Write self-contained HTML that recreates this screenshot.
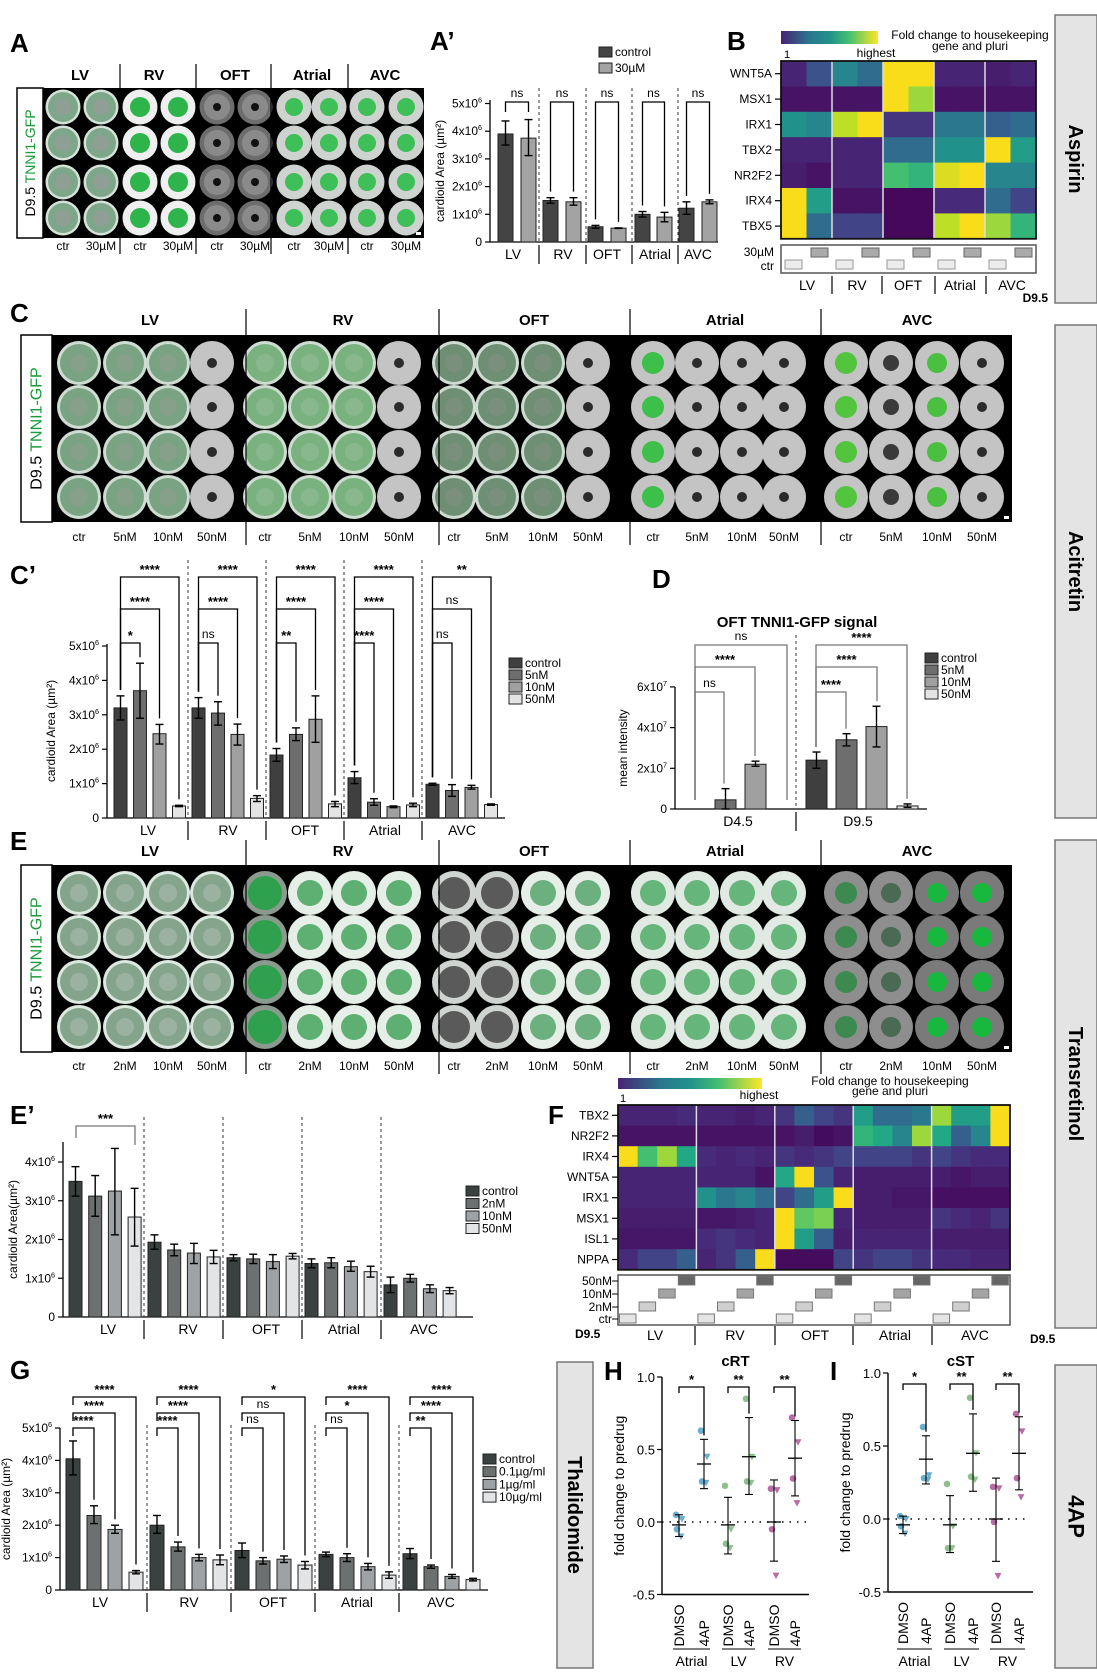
<!DOCTYPE html>
<html><head><meta charset="utf-8"><style>
html,body{margin:0;padding:0;background:#fff}
svg{display:block;font-family:"Liberation Sans",Arial,sans-serif}
</style></head><body>
<svg id="s" xmlns="http://www.w3.org/2000/svg" width="1097" height="1675" viewBox="0 0 1097 1675"></svg>
<script>
const S=[];
function T(x,y,s,sz,a){S.push(`<text x="${x}" y="${y}" font-size="${sz}" ${a||''}>${s}</text>`);}
function L(x1,y1,x2,y2,c,w,d){S.push(`<line x1="${x1}" y1="${y1}" x2="${x2}" y2="${y2}" stroke="${c||'#000'}" stroke-width="${w||1}" ${d?`stroke-dasharray="${d}"`:''}/>`);}
function R(x,y,w,h,f,st,sw){S.push(`<rect x="${x}" y="${y}" width="${w}" height="${h}" fill="${f}" ${st?`stroke="${st}" stroke-width="${sw||1}"`:''}/>`);}
function C(x,y,r,f){S.push(`<circle cx="${x}" cy="${y}" r="${r}" fill="${f}"/>`);}
function sci(x,y,m,e,sz){S.push(`<text x="${x}" y="${y}" font-size="${sz}" text-anchor="end">${m}x10<tspan font-size="${sz*0.6}" dy="-5">${e}</tspan></text>`);}
function vir(v){const st=['#440154','#482475','#414487','#355f8d','#2a788e','#21918c','#22a884','#44bf70','#7ad151','#bddf26','#f9dc1a'];
 v=Math.max(0,Math.min(1,v));const i=Math.min(9,Math.floor(v*10)),f=v*10-i;
 const a=st[i],b=st[i+1];const p=(h,k)=>parseInt(h.substr(k,2),16);
 const m=k=>Math.round(p(a,k)+(p(b,k)-p(a,k))*f);return `rgb(${m(1)},${m(3)},${m(5)})`;}
function rot(x,y,s,sz,ang,a){S.push(`<text transform="translate(${x},${y}) rotate(${ang})" font-size="${sz}" text-anchor="middle" ${a||''}>${s}</text>`);}
function side(x,y,w,h,txt,sz){R(x,y,w,h,'#e4e4e4','#777',1.5);rot(x+w/2-sz*0.35,y+h/2,txt,sz,90,'font-weight="bold"');}
side(1055,15,42,288,'Aspirin',20);
side(1055,325,42,493,'Acitretin',20);
side(1055,840,42,488,'Transretinol',20);
side(1055,1365,42,303,'4AP',22);
side(557,1362,36,306,'Thalidomide',20);
const PL=[['A',10,52],['A’',430,50],['B',727,50],['C',10,322],['C’',10,584],['D',652,588],['E',10,850],['E’',10,1124],['F',548,1124],['G',10,1379],['H',604,1380],['I',830,1380]];
PL.forEach(p=>T(p[1],p[2],p[0],26,'font-weight="bold"'));

function plate(x0,y0,x1,y1,wb,xs,ys,fn,heads,seps,hy,bot,by,label){
 R(x0,y0,x1-x0,y1-y0,'#000');
 R(x0,y0,wb-x0,y1-y0,'#fff','#000',1.5);
 S.push(`<text transform="translate(${(x0+wb)/2+5},${(y0+y1)/2}) rotate(-90)" font-size="${label}" text-anchor="middle">D9.5 <tspan fill="#1a9a3a">TNNI1-GFP</tspan></text>`);
 xs.forEach((x,c)=>ys.forEach((y,r)=>fn(c,r).forEach(e=>C(x,y,e[0],e[1]))));
 R(x1-8,y1-6,5,3,'#fff');
 heads.forEach(h=>T(h[0],hy,h[1],15,'text-anchor="middle" font-weight="bold"'));
 seps.forEach(s=>L(s,hy-16,s,by+4,'#000',1.2));
 bot.forEach(b=>T(b[0],by,b[1],12,'text-anchor="middle"'));
}
{const xs=[63,101,140,178,217,255,294,329,367,406],ys=[107,143,182,218];
plate(17,88,424,238,43,xs,ys,(c,r)=>{const g=Math.floor(c/2);
 if(g==0)return[[17.5,'#d4e2d8'],[15,'#7ea68a'],[8,'#8f9f95']];
 if(g==1)return[[17.5,'#efefef'],[10,'#2db54c']];
 if(g==2)return[[17.5,'#6d6d6d'],[13,'#8a8a8a'],[4,'#111']];
 return[[17.5,'#cfd3d0'],[9,'#3fbf57']];},
 [[80,'LV'],[154,'RV'],[235,'OFT'],[312,'Atrial'],[385,'AVC']],[120,196,271,348],80,
 xs.map((x,i)=>[x,i%2?'30µM':'ctr']),250,14);}
const CX=[79,125,168,212,265,310,354,399,454,497,543,588,653,697,742,784,846,891,937,982];
const heads5=[[150,'LV'],[343,'RV'],[534,'OFT'],[725,'Atrial'],[917,'AVC']],seps5=[246,439,630,821];
plate(21,335,1012,522,52,CX,[363,407,452,497],(c)=>{const g=Math.floor(c/4),d=c%4;
 if(d==3)return[[22,'#c4c4c4'],[5,'#2b2b2b']];
 if(g<3)return[[22,'#cfdcd2'],[19,['#7aa383','#79b27f','#6f8f74'][g]],[9,['#86a08a','#88b88c','#7a907c'][g]]];
 if(g==3)return d==0?[[22,'#c4c4c4'],[11,'#3cc04a']]:[[22,'#c4c4c4'],[5,'#2b2b2b']];
 return d==0?[[22,'#c4c4c4'],[11,'#52c43e']]:d==1?[[22,'#c4c4c4'],[8,'#3a3a3a']]:[[22,'#c4c4c4'],[10,'#4ac040']];},
 heads5,seps5,325,CX.map((x,i)=>[x,['ctr','5nM','10nM','50nM'][i%4]]),541,16);
plate(21,865,1012,1052,52,CX,[893,937,982,1027],(c)=>{const g=Math.floor(c/4),d=c%4;
 if(g==0)return[[22,'#dde8e0'],[19,'#84a58b'],[9,'#9bb2a0']];
 if(g==1)return d==0?[[22,'#8a9a8e'],[17,'#2ea04e']]:[[22,'#e6eee8'],[13,'#5daf72']];
 if(g==2)return d<2?[[22,'#d0d4d0'],[16,'#5a5a5a']]:[[22,'#e6eee8'],[13,'#6bb07e']];
 if(g==3)return[[22,'#e0eae3'],[13,'#66b57b']];
 return d==0?[[22,'#8e8e8e'],[11,'#3d8a50']]:d==1?[[22,'#8e8e8e'],[10,'#4a6a55']]:[[22,'#7a7a7a'],[10,'#18b83f']];},
 heads5,seps5,856,CX.map((x,i)=>[x,['ctr','2nM','10nM','50nM'][i%4]]),1070,16);

function chart(o){
 const Y=v=>o.y0-v*o.k;
 L(o.ax,o.ytop,o.ax,o.y0,'#000',1.3);L(o.ax,o.y0,o.ax2,o.y0,'#000',1.3);
 o.ticks.forEach(t=>{L(o.ax-5,Y(t[0]),o.ax,Y(t[0]),'#000',1.2);
  if(t[1]==='0')T(o.ax-8,Y(t[0])+4,'0',12,'text-anchor="end"');else sci(o.ax-8,Y(t[0])+4,t[1],t[2],12);});
 o.dash.forEach(x=>L(x,o.dtop,x,o.y0,'#333',1,'3,3'));
 o.cats.forEach(c=>T(c[0],o.y0+17,c[1],14,'text-anchor="middle"'));
 o.dash.forEach(x=>L(x,o.y0+3,x,o.y0+22,'#000',1.2));
 o.bars.forEach(b=>{R(b[0],Y(b[2]),o.bw,b[2]*o.k,b[1],'#222',1);
  const xc=b[0]+o.bw/2;if(b[3]!=null){L(xc,Y(b[3]),xc,Y(b[4]),'#000',1.4);L(xc-4,Y(b[3]),xc+4,Y(b[3]),'#000',1.4);L(xc-4,Y(b[4]),xc+4,Y(b[4]),'#000',1.4);}});
 rot(o.tx,(o.ytop+o.y0)/2,o.title,12,-90);
 o.leg.forEach((l,i)=>{R(o.lx,o.ly+i*o.lh-8,13,10,l[0],'#222',1);T(o.lx+16,o.ly+i*o.lh+1,l[1],12);});
 return Y;
}
function br(x1,x2,yt,b1,b2,lab,col){const c=col||'#000';S.push(`<polyline points="${x1},${b1} ${x1},${yt} ${x2},${yt} ${x2},${b2}" fill="none" stroke="${c}" stroke-width="1.3"/>`);
 const st=lab.indexOf('*')>=0;T((x1+x2)/2,yt-(st?3:5),lab,st?13:12,'text-anchor="middle" '+(st?'font-weight="bold"':''));}
const G4=['#3f3f3f','#6e6e6e','#a0a0a0','#e4e4e4'];

{const vals=[[498,'#444',3.9,3.5,4.37],[521,'#a3a3a3',3.75,3.12,4.42],[543,'#444',1.5,1.4,1.6],[566,'#a3a3a3',1.45,1.33,1.6],[588,'#444',.55,.5,.6],[611,'#a3a3a3',.5,.49,.51],[635,'#444',1.0,.9,1.1],[657,'#a3a3a3',.9,.73,1.07],[679,'#444',1.22,1.0,1.45],[702,'#a3a3a3',1.45,1.38,1.52]];
const Y=chart({ax:490,ax2:718,y0:242,k:27.7,ytop:100,ticks:[[0,'0'],[1,'1',6],[2,'2',6],[3,'3',6],[4,'4',6],[5,'5',6]],
 dash:[539,586,632,678],dtop:88,cats:[[513,'LV'],[563,'RV'],[607,'OFT'],[655,'Atrial'],[698,'AVC']],bars:vals,bw:15,
 tx:444,title:'cardioid Area (µm²)',leg:[['#444','control'],['#a3a3a3','30µM']],lx:599,ly:55,lh:16});
 for(let g=0;g<5;g++){const a=vals[2*g],b=vals[2*g+1];br(a[0]+7.5,b[0]+7.5,102,g==0?112:Y(a[4])-6,g==0?112:Y(b[4])-6,'ns');}}

function heat(x0,y0,cw,rh,data,genes,sepEvery){
 data.forEach((row,r)=>row.forEach((v,c)=>R(x0+c*cw,y0+r*rh,cw+0.5,rh+0.5,vir(v))));
 const nc=data[0].length;
 for(let c=sepEvery;c<nc;c+=sepEvery)L(x0+c*cw,y0,x0+c*cw,y0+data.length*rh,'#ddd',1.5);
 R(x0,y0,nc*cw,data.length*rh,'none','#111',1.8);
 genes.forEach((g,r)=>{T(x0-9,y0+r*rh+rh/2+4,g,12,'text-anchor="end"');L(x0-6,y0+r*rh+rh/2,x0,y0+r*rh+rh/2,'#000',1.2);});
}
function cbar(x,y,w,h,id){S.push(`<defs><linearGradient id="${id}"><stop offset="0" stop-color="#482475"/><stop offset=".3" stop-color="#2a788e"/><stop offset=".5" stop-color="#21918c"/><stop offset=".7" stop-color="#44bf70"/><stop offset="1" stop-color="#fde725"/></linearGradient></defs>`);R(x,y,w,h,`url(#${id})`);}
cbar(781,31,97,13,'g1');
T(784,58,'1',11);T(876,57,'highest',12,'text-anchor="middle"');
T(970,39,'Fold change to housekeeping',12,'text-anchor="middle"');T(970,50,'gene and pluri',12,'text-anchor="middle"');
heat(781,61,25.5,25.4,[
[.1,.25,.45,.35,1,1,.1,.1,.08,.1],
[.05,.05,.05,.05,1,.85,.05,.05,.05,.05],
[.5,.45,.9,1,.15,.15,.4,.4,.3,.35],
[.1,.1,.1,.1,.35,.35,.5,.5,1,.55],
[.08,.05,.1,.1,.7,.65,.95,1,.45,.45],
[1,.55,.05,.05,.02,.02,.12,.12,.35,.2],
[1,.35,.2,.2,.02,.02,.9,1,.85,.65]],['WNT5A','MSX1','IRX1','TBX2','NR2F2','IRX4','TBX5'],2);
R(781,245,255,28,'#fff','#555',1.5);
for(let g=0;g<5;g++){const x=781+g*51;R(x+30,248,17,9,'#aaa','#666');R(x+4,260,17,9,'#ececec','#999');}
T(774,256,'30µM',12,'text-anchor="end"');T(774,270,'ctr',12,'text-anchor="end"');
[[807,'LV'],[857,'RV'],[908,'OFT'],[960,'Atrial'],[1012,'AVC']].forEach(c=>T(c[0],290,c[1],14,'text-anchor="middle"'));
[832,882,935,986].forEach(x=>L(x,276,x,294,'#000',1.2));
T(1048,302,'D9.5',12,'text-anchor="end" font-weight="bold"');

{const d=[[3.2,2.85,3.55],[3.7,2.9,4.5],[2.45,2.15,2.72],[.35,.33,.37],[3.2,2.9,3.5],[3.05,2.7,3.38],[2.43,2.12,2.73],[.57,.48,.65],[1.83,1.65,2.02],[2.43,2.25,2.62],[2.87,2.2,3.55],[.41,.33,.48],[1.17,1,1.35],[.46,.37,.56],[.33,.3,.35],[.38,.33,.43],[.98,.95,1.01],[.8,.63,.97],[.89,.84,.95],[.39,.37,.41]];
const gs=[114,192,270,348,426],bars=[];d.forEach((v,i)=>bars.push([gs[Math.floor(i/4)]+(i%4)*19.5,G4[i%4],v[0],v[1],v[2]]));
const Y=chart({ax:107,ax2:505,y0:818,k:34.4,ytop:644,ticks:[[0,'0'],[1,'1',6],[2,'2',6],[3,'3',6],[4,'4',6],[5,'5',6]],
 dash:[188,266,344,422],dtop:560,cats:[[148,'LV'],[228,'RV'],[305,'OFT'],[385,'Atrial'],[462,'AVC']],bars,bw:13,
 tx:55,title:'cardioid Area (µm²)',leg:G4.map((c,i)=>[c,['control','5nM','10nM','50nM'][i]]),lx:509,ly:666,lh:12});
 const labs=[['*','****','****'],['ns','****','****'],['**','****','****'],['****','****','****'],['ns','ns','**']],tops=[643,609,577];
 for(let g=0;g<5;g++){const x0=gs[g]+6.5;for(let l=0;l<3;l++){const x2=gs[g]+(l+1)*19.5+6.5;br(x0,x2,tops[l],Y(d[g*4][2])-6,Y(d[g*4+l+1][2])-6,labs[g][l]);}}}

T(797,627,'OFT TNNI1-GFP signal',15,'text-anchor="middle" font-weight="bold"');
{const k=40.7/2;const bars=[[715,G4[1],.45,0,1.0],[745,G4[2],2.2,2.1,2.35],[806,G4[0],2.4,2.0,2.8],[836,G4[1],3.4,3.1,3.7],[866,G4[2],4.05,3.05,5.05],[897,G4[3],.15,.08,.25]];
const Y=chart({ax:675,ax2:927,y0:809,k:k,ytop:687,ticks:[[0,'0'],[2,'2',7],[4,'4',7],[6,'6',7]],dash:[796],dtop:635,
 cats:[[738,'D4.5'],[858,'D9.5']],bars,bw:21,tx:627,title:'mean intensity',leg:G4.map((c,i)=>[c,['control','5nM','10nM','50nM'][i]]),lx:925,ly:661,lh:12});
 const cl='#777';br(695,724,692,800,Y(1.0)-5,'ns',cl);br(695,755,667,800,Y(2.35)-5,'****',cl);br(695,787,645,800,800,'ns',cl);
 br(816,846,692,Y(2.8)-5,Y(3.7)-5,'****',cl);br(816,877,667,Y(2.8)-5,Y(5.05)-5,'****',cl);br(816,907,645,Y(2.8)-5,Y(.25)-5,'****',cl);}

{const d=[[3.5,3.12,3.88],[3.12,2.6,3.65],[3.25,2.12,4.35],[2.58,1.83,3.32],[1.93,1.75,2.12],[1.73,1.58,1.88],[1.65,1.38,1.9],[1.55,1.38,1.72],[1.53,1.45,1.61],[1.5,1.38,1.62],[1.43,1.25,1.61],[1.57,1.5,1.64],[1.38,1.27,1.5],[1.4,1.27,1.53],[1.3,1.18,1.44],[1.17,1.03,1.31],[.83,.63,1.03],[1.0,.9,1.1],[.73,.63,.83],[.68,.6,.76]];
const gs=[69,148,227,305,384],EC=['#3b4140','#6d7070','#9ea2a4','#e2e4e6'],bars=[];d.forEach((v,i)=>bars.push([gs[Math.floor(i/4)]+(i%4)*19.7,EC[i%4],v[0],v[1],v[2]]));
chart({ax:63,ax2:473,y0:1317,k:38.75,ytop:1142,ticks:[[0,'0'],[1,'1',6],[2,'2',6],[3,'3',6],[4,'4',6]],
 dash:[144,223,302,381],dtop:1117,cats:[[108,'LV'],[188,'RV'],[266,'OFT'],[344,'Atrial'],[424,'AVC']],bars,bw:13,
 tx:17,title:'cardioid Area(µm²)',leg:EC.map((c,i)=>[c,['control','2nM','10nM','50nM'][i]]),lx:466,ly:1194,lh:12.5});
 br(76,135,1126,1138,1145,'***','#777');}

cbar(618,1078,144,11,'g2');
T(620,1102,'1',11);T(759,1099,'highest',12,'text-anchor="middle"');
T(890,1085,'Fold change to housekeeping',12,'text-anchor="middle"');T(890,1095,'gene and pluri',12,'text-anchor="middle"');
heat(618,1105,19.6,20.6,[
[.1,.1,.1,.12,.1,.1,.08,.1,.15,.3,.2,.15,.55,.35,.35,.4,.85,.55,.55,1],
[.05,.05,.05,.05,.05,.05,.05,.05,.05,.08,.03,.05,.65,.6,.45,.85,.6,.3,.45,1],
[1,.7,.85,.6,.12,.1,.12,.1,.15,.12,.15,.2,.2,.2,.2,.15,.2,.15,.12,.12],
[.1,.1,.1,.1,.1,.1,.1,.05,.6,1,.25,.1,.08,.08,.08,.08,.08,.06,.08,.08],
[.1,.1,.1,.1,.5,.4,.45,.35,.2,.35,.55,1,.08,.08,.06,.06,.04,.04,.04,.04],
[.08,.08,.08,.08,.06,.06,.08,.1,1,.75,.8,.1,.08,.08,.08,.08,.15,.12,.1,.15],
[.06,.06,.06,.06,.12,.15,.12,.1,1,.55,.3,.08,.1,.1,.1,.1,.08,.08,.08,.08],
[.12,.2,.2,.3,.1,.15,.3,1,.03,.03,.03,.2,.15,.2,.2,.15,.12,.12,.1,.1]],
['TBX2','NR2F2','IRX4','WNT5A','IRX1','MSX1','ISL1','NPPA'],4);
R(618,1275,392,50,'#fff','#555',1.5);
{const ys=[1313,1301,1288,1275],cs=['#e4e4e4','#cfcfcf','#a4a4a4','#666'];
for(let g=0;g<5;g++)for(let d=0;d<4;d++)R(618+g*78.4+d*19.6+1.5,ys[d]+1,16.5,9,cs[d],'#777');
['ctr','2nM','10nM','50nM'].forEach((l,d)=>{T(612,ys[d]+10,l,12,'text-anchor="end"');L(612,ys[d]+6,618,ys[d]+6,'#000',1);});}
[[655,'LV'],[735,'RV'],[815,'OFT'],[895,'Atrial'],[975,'AVC']].forEach(c=>T(c[0],1340,c[1],14,'text-anchor="middle"'));
[695,775,853,932].forEach(x=>L(x,1326,x,1345,'#000',1.2));
T(575,1338,'D9.5',12,'font-weight="bold"');T(1030,1343,'D9.5',12,'font-weight="bold"');

{const d=[[4.05,3.55,4.6],[2.3,2.05,2.6],[1.87,1.75,2.0],[.55,.5,.6],[2.0,1.75,2.3],[1.33,1.2,1.48],[1.0,.9,1.1],[.93,.78,1.08],[1.22,1.0,1.45],[.9,.8,1.0],[.95,.85,1.05],[.77,.65,.88],[1.1,1.03,1.17],[1.0,.88,1.12],[.72,.62,.82],[.46,.36,.56],[1.12,.97,1.28],[.72,.67,.77],[.42,.36,.48],[.32,.28,.36]];
const gs=[66,150,235,319,403],GC=['#3b4140','#6d7070','#9ea2a4','#e2e4e6'],bars=[];d.forEach((v,i)=>bars.push([gs[Math.floor(i/4)]+(i%4)*21,GC[i%4],v[0],v[1],v[2]]));
const Y=chart({ax:60,ax2:488,y0:1590,k:32.4,ytop:1428,ticks:[[0,'0'],[1,'1',6],[2,'2',6],[3,'3',6],[4,'4',6],[5,'5',6]],
 dash:[147,231,315,399],dtop:1425,cats:[[100,'LV'],[189,'RV'],[273,'OFT'],[357,'Atrial'],[441,'AVC']],bars,bw:14,
 tx:10,title:'cardioid Area (µm²)',leg:GC.map((c,i)=>[c,['control','0.1µg/ml','1µg/ml','10µg/ml'][i]]),lx:483,ly:1462,lh:12.7});
 const labs=[['****','****','****'],['****','****','****'],['ns','ns','*'],['ns','*','****'],['**','****','****']],tops=[1428,1413,1397];
 for(let g=0;g<5;g++){const x0=gs[g]+7;for(let l=0;l<3;l++){const x2=gs[g]+(l+1)*21+7;br(x0,x2,tops[l],tops[l]+8,Y(d[g*4+l+1][2])-6,labs[g][l]);}}}

function scat(o){
 const Y=v=>o.z-v*o.k;
 L(o.ax,Y(1.0),o.ax,Y(-0.5),'#000',1.4);L(o.ax,Y(-0.5),o.ax2,Y(-0.5),'#000',1.4);
 [[1,'1.0'],[.5,'0.5'],[0,'0.0'],[-.5,'-0.5']].forEach(t=>{L(o.ax-5,Y(t[0]),o.ax,Y(t[0]),'#000',1.2);T(o.ax-7,Y(t[0])+5,t[1],13,'text-anchor="end"');});
 L(o.ax,Y(0),o.ax2-3,Y(0),'#000',1.5,'1.5,6');
 T((o.ax+o.ax2)/2,1366,o.title,15,'text-anchor="middle" font-weight="bold"');
 rot(o.ax-38,Y(0.25),'fold change to predrug',14,-90);
 const cols=['#6aaed0','#8fbf8f','#b86ca6'];
 o.xs.forEach((x,i)=>{S.push(`<text transform="translate(${x+5},${Y(-0.5)+52}) rotate(-90)" font-size="14">${i%2?'4AP':'DMSO'}</text>`);
  const p=o.pts[i],col=cols[Math.floor(i/2)];
  p[0].forEach((v,j)=>{const xx=x+[-3,3,-2,2][j];const y=Y(v);
   if(j%2==0)C(xx,y,3.3,col);else S.push(`<polygon points="${xx-3.5},${y-3} ${xx+3.5},${y-3} ${xx},${y+3.5}" fill="${col}"/>`);});
  L(x-7,Y(p[1]),x+7,Y(p[1]),'#000',1.3);L(x,Y(p[2]),x,Y(p[3]),'#000',1.1);L(x-4,Y(p[2]),x+4,Y(p[2]),'#000',1.1);L(x-4,Y(p[3]),x+4,Y(p[3]),'#000',1.1);});
 ['Atrial','LV','RV'].forEach((g,i)=>{const a=o.xs[2*i],b=o.xs[2*i+1];L(a-6,1649,b+6,1649,'#000',1);T((a+b)/2,1666,g,14,'text-anchor="middle"');
  br(a,b,o.bt,o.bt+6,Y(o.pts[2*i+1][3])-4,['*','**','**'][i]);});
}
scat({ax:662,ax2:809,z:1522,k:145,title:'cRT',bt:1387,xs:[679,704,728,749,774,795],pts:[
 [[.05,.02,-.05,-.1],-.02,-.1,.05],[[.63,.45,.28,.27],.4,.23,.57],
 [[.25,-.05,-.15,-.18],-.02,-.22,.17],[[.85,.45,.28,.27],.45,.19,.72],
 [[.23,.22,-.05,-.37],0,-.27,.29],[[.72,.55,.3,.13],.44,.18,.7]]});
scat({ax:888,ax2:1033,z:1519,k:146,title:'cST',bt:1384,xs:[903,926,950,973,996,1019],pts:[
 [[.02,0,-.05,-.1],-.04,-.1,.02],[[.63,.3,.28,.27],.41,.24,.57],
 [[.24,-.05,-.2,-.2],-.04,-.23,.16],[[.83,.45,.29,.27],.45,.19,.72],
 [[.22,.21,-.02,-.39],0,-.29,.28],[[.72,.6,.28,.15],.45,.2,.7]]});

document.getElementById('s').innerHTML=S.join('');
</script>
</body></html>
